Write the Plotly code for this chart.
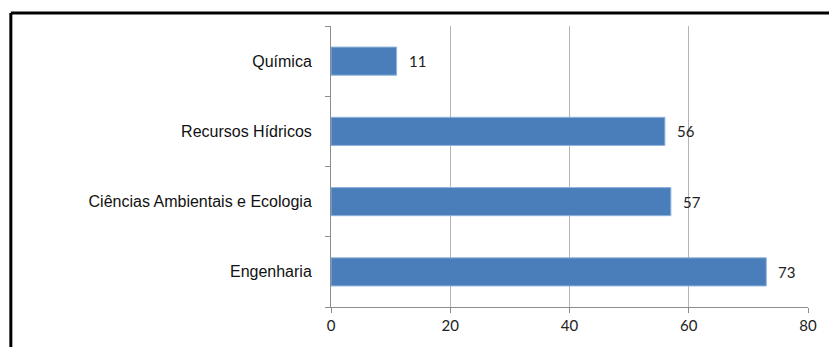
import plotly.graph_objects as go

# Áreas de conhecimento (de cima para baixo) e número de registros
areas = ["Química", "Recursos Hídricos", "Ciências Ambientais e Ecologia", "Engenharia"]
valores = [11, 56, 57, 73]
x_ticks = [0, 20, 40, 60, 80]

W, H = 829, 347
ml, mr, mt, mb = 331, 19, 26, 40
pw, ph = W - ml - mr, H - mt - mb

bar_color = "#4a7ebb"
grid_color = "#b4b4b4"
axis_color = "#8c8c8c"

fig = go.Figure(
    go.Bar(
        x=valores,
        y=areas,
        orientation="h",
        marker=dict(color=bar_color, line=dict(color="#8fb2dc", width=1)),
        width=0.4,
        hoverinfo="x+y",
    )
)

# Rótulos de valor à direita de cada barra
for a, v in zip(areas, valores):
    fig.add_annotation(
        x=v, y=a, text=str(v), showarrow=False,
        xanchor="left", yanchor="middle", xshift=10,
        font=dict(family="Lato", size=15, color="#222"),
    )

# Moldura preta (bordas superior e esquerda)
def px_to_paper_x(px):
    return (px - ml) / pw

def px_to_paper_y(py):
    return 1 - (py - mt) / ph

x_left = px_to_paper_x(9.5)
y_top = px_to_paper_y(13)
fig.add_shape(type="line", xref="paper", yref="paper",
              x0=x_left, x1=px_to_paper_x(W + 10), y0=y_top, y1=y_top,
              line=dict(color="black", width=3))
fig.add_shape(type="line", xref="paper", yref="paper",
              x0=x_left, x1=x_left, y0=y_top, y1=px_to_paper_y(H + 10),
              line=dict(color="black", width=3))

fig.update_layout(
    width=W, height=H,
    margin=dict(l=ml, r=mr, t=mt, b=mb),
    plot_bgcolor="white", paper_bgcolor="white",
    showlegend=False,
    xaxis=dict(
        range=[0, 80], tickvals=x_ticks, showgrid=True, gridcolor=grid_color,
        gridwidth=1, zeroline=False, showline=True, linecolor=axis_color,
        ticks="outside", ticklen=5, tickcolor=axis_color,
        tickfont=dict(family="Lato", size=15, color="#222"),
    ),
    yaxis=dict(
        categoryorder="array", categoryarray=areas[::-1],
        showgrid=False, zeroline=False, showline=True, linecolor=axis_color,
        ticks="outside", ticklen=5, tickcolor=axis_color, tickson="boundaries",
        ticklabelstandoff=15,
        tickfont=dict(family="Liberation Sans", size=16, color="#111"),
    ),
)

fig.write_html("out.html")
